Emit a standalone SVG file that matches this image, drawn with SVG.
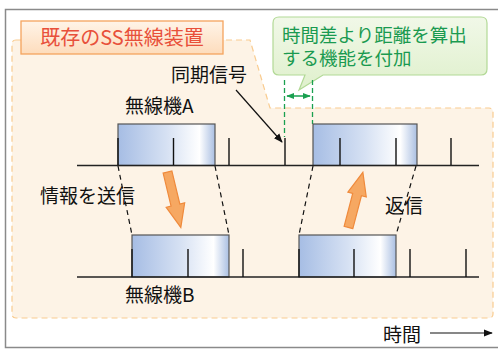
<svg xmlns="http://www.w3.org/2000/svg" width="498" height="350" viewBox="0 0 498 350">
<defs>
<linearGradient id="boxg" x1="0" y1="0" x2="1" y2="0">
<stop offset="0" stop-color="#a6bde4"/>
<stop offset="0.5" stop-color="#d6e1f3"/>
<stop offset="0.84" stop-color="#ffffff"/>
<stop offset="1" stop-color="#aabfe2"/>
</linearGradient>
<linearGradient id="lblg" x1="0" y1="0" x2="0" y2="1">
<stop offset="0" stop-color="#fff4e8"/>
<stop offset="1" stop-color="#fddcbc"/>
</linearGradient>
<linearGradient id="greeng" x1="0" y1="0" x2="0" y2="1">
<stop offset="0" stop-color="#f1f8e8"/>
<stop offset="1" stop-color="#dff0cc"/>
</linearGradient>
<marker id="ah" viewBox="0 0 10 10" refX="9" refY="5" markerWidth="9" markerHeight="9" markerUnits="userSpaceOnUse" orient="auto">
<path d="M0,1 L10,5 L0,9 z" fill="#111"/>
</marker>
<marker id="gah" viewBox="0 0 10 10" refX="9" refY="5" markerWidth="8" markerHeight="8" markerUnits="userSpaceOnUse" orient="auto-start-reverse">
<path d="M0,1 L10,5 L0,9 z" fill="#1aa050"/>
</marker>
<path id="barrow" d="M-4.5,0 L4.5,0 L4.5,34 L9.5,34 L0,57 L-9.5,34 L-4.5,34 z"/>
</defs>
<style>
text{font-family:"Noto Sans CJK JP","Noto Sans",sans-serif;font-size:19px;fill:#111}
.gt{fill:#1a9a50;font-size:18.5px}
.tl{stroke:#222;stroke-width:1.6;fill:none}
.tick{stroke:#111;stroke-width:1.4}
.box{fill:url(#boxg);stroke:#555;stroke-width:1.2}
.dl{stroke:#111;stroke-width:1.2;stroke-dasharray:5,4;fill:none}
.gd{stroke:#1aa050;stroke-width:1.3;stroke-dasharray:5,3;fill:none}
.oar{fill:#f6a862;stroke:#ef8a3c;stroke-width:1.2}
</style>
<rect x="0" y="0" width="498" height="350" fill="#ffffff"/>
<rect x="5.5" y="9.5" width="500" height="338" fill="#ffffff" stroke="#8a8a8a" stroke-width="1.5"/>
<g id="region">
<path d="M16,40 L250,40 L270,108 L489,108 Q493,108 493,112 L493,314 Q493,318 489,318 L16,318 Q12,318 12,314 L12,44 Q12,40 16,40 z" fill="#fdf3e6" stroke="#f9cc90" stroke-width="1.2" stroke-dasharray="6,4"/>
</g>
<g id="label-existing">
<rect x="21" y="21" width="202" height="33" fill="url(#lblg)" stroke="#f5a45e" stroke-width="1.3"/>
<text x="122" y="45" text-anchor="middle" style="fill:#e8503a;font-size:20px">既存のSS無線装置</text>
</g>
<g id="callout">
<path d="M279,17 L481,17 Q487,17 487,23 L487,69 Q487,75 481,75 L323,75 L299,90 L305,75 L279,75 Q273,75 273,69 L273,23 Q273,17 279,17 z" fill="url(#greeng)" stroke="#b2d996" stroke-width="1.2"/>
<text class="gt" x="282" y="42">時間差より距離を算出</text>
<text class="gt" x="282" y="65">する機能を付加</text>
</g>
<g id="connectors">
<line class="gd" x1="284.5" y1="80" x2="284.5" y2="137"/>
<line class="gd" x1="312.5" y1="80" x2="312.5" y2="124"/>
<line x1="287" y1="96" x2="310" y2="96" stroke="#1aa050" stroke-width="1.5" marker-start="url(#gah)" marker-end="url(#gah)"/>
<line x1="236" y1="90" x2="282" y2="142" stroke="#111" stroke-width="1.2" marker-end="url(#ah)"/>
<line class="dl" x1="118" y1="166" x2="132" y2="235"/>
<line class="dl" x1="215" y1="166" x2="229" y2="235"/>
<line class="dl" x1="313" y1="166" x2="299" y2="235"/>
<line class="dl" x1="416" y1="166" x2="396" y2="235"/>
<line x1="430" y1="333" x2="492" y2="333" stroke="#111" stroke-width="1.2" marker-end="url(#ah)"/>
</g>
<g id="radioA">
<rect class="box" x="118" y="124" width="97" height="41.5"/>
<rect class="box" x="313" y="124" width="104" height="41.5"/>
<line class="tl" x1="77" y1="165.5" x2="479" y2="165.5"/>
<g class="tick">
<line x1="118" y1="138" x2="118" y2="165"/>
<line x1="173.5" y1="138" x2="173.5" y2="165"/>
<line x1="229" y1="138" x2="229" y2="165"/>
<line x1="285" y1="138" x2="285" y2="165"/>
<line x1="340" y1="138" x2="340" y2="165"/>
<line x1="396" y1="138" x2="396" y2="165"/>
<line x1="451" y1="138" x2="451" y2="165"/>
</g>
<text x="125" y="113">無線機A</text>
</g>
<g id="radioB">
<rect class="box" x="132" y="235" width="97" height="42"/>
<rect class="box" x="299" y="235" width="97" height="42"/>
<line class="tl" x1="77" y1="277" x2="479" y2="277"/>
<g class="tick">
<line x1="132" y1="249" x2="132" y2="277"/>
<line x1="188" y1="249" x2="188" y2="277"/>
<line x1="243" y1="249" x2="243" y2="277"/>
<line x1="299" y1="249" x2="299" y2="277"/>
<line x1="354" y1="249" x2="354" y2="277"/>
<line x1="410" y1="249" x2="410" y2="277"/>
<line x1="466" y1="249" x2="466" y2="277"/>
</g>
<text x="125" y="302">無線機B</text>
</g>
<g id="arrow-send">
<use href="#barrow" class="oar" transform="translate(167.5,172) rotate(-13.5)"/>
<text x="40" y="203">情報を送信</text>
</g>
<g id="arrow-reply">
<use href="#barrow" class="oar" transform="translate(348.5,227.5) rotate(194.6)"/>
<text x="385" y="213">返信</text>
</g>
<g id="sync-label">
<text x="171" y="82">同期信号</text>
</g>
<g id="time-label">
<text x="383" y="342">時間</text>
</g>
</svg>
